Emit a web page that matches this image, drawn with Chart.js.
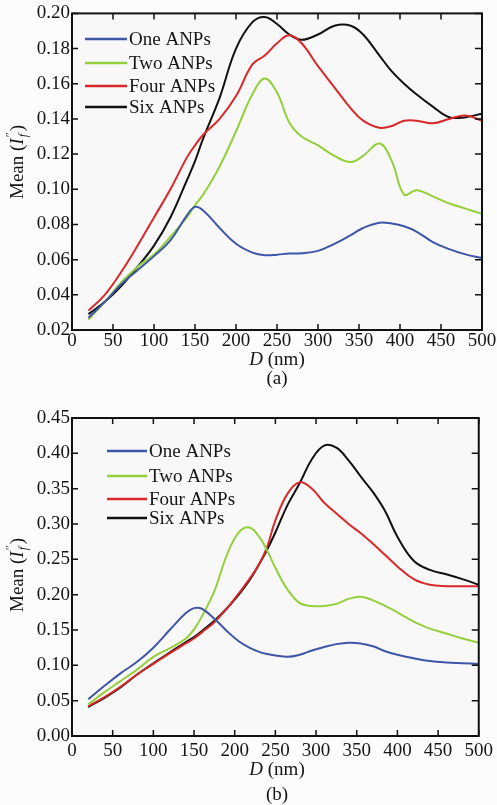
<!DOCTYPE html>
<html>
<head>
<meta charset="utf-8">
<script src="https://cdn.jsdelivr.net/npm/chart.js@4.4.1/dist/chart.umd.min.js"></script>
<style>
  html, body { margin: 0; padding: 0; background: #fcfcfc; }
  .wrap { position: absolute; left: 0; width: 497px; }
  #wrapA { top: 0; height: 392px; }
  #wrapB { top: 400px; height: 405px; }
</style>
</head>
<body>
<div class="wrap" id="wrapA"><canvas id="chartA" width="497" height="392"></canvas></div>
<div class="wrap" id="wrapB"><canvas id="chartB" width="497" height="405"></canvas></div>
<script>
// ---- data (a) ----
const seriesNames = ['One ANPs', 'Two ANPs', 'Four ANPs', 'Six ANPs'];
const seriesColors = ['#3d56a6', '#94cf3c', '#d8282a', '#111111'];

const dA = [20, 40, 60, 80, 100, 120, 140, 150, 160, 180, 200, 220, 235, 250, 265, 280, 300, 320, 340, 355, 375, 390, 405, 420, 440, 460, 480, 500];
const oneA = [0.027, 0.036, 0.046, 0.054, 0.062, 0.071, 0.085, 0.090, 0.088, 0.078, 0.069, 0.064, 0.0625, 0.0628, 0.0635, 0.0636, 0.065, 0.069, 0.074, 0.078, 0.081, 0.0805, 0.079, 0.076, 0.070, 0.066, 0.063, 0.061];
const twoA = [0.026, 0.036, 0.047, 0.056, 0.063, 0.073, 0.084, 0.091, 0.097, 0.113, 0.133, 0.154, 0.163, 0.155, 0.138, 0.130, 0.125, 0.119, 0.1155, 0.119, 0.126, 0.116, 0.097, 0.0995, 0.096, 0.092, 0.089, 0.086];
const fourA = [0.031, 0.040, 0.053, 0.068, 0.084, 0.100, 0.118, 0.125, 0.131, 0.140, 0.153, 0.171, 0.176, 0.183, 0.1876, 0.183, 0.170, 0.158, 0.146, 0.139, 0.135, 0.136, 0.139, 0.139, 0.1375, 0.140, 0.142, 0.139];
const sixA = [0.029, 0.036, 0.045, 0.056, 0.068, 0.084, 0.105, 0.116, 0.129, 0.152, 0.180, 0.195, 0.198, 0.194, 0.188, 0.185, 0.188, 0.193, 0.193, 0.188, 0.176, 0.167, 0.160, 0.154, 0.147, 0.141, 0.141, 0.143];

// ---- data (b) ----
const dB = [20, 40, 60, 80, 100, 120, 140, 150, 160, 175, 190, 205, 218, 230, 240, 250, 265, 280, 295, 310, 325, 340, 355, 370, 385, 400, 420, 440, 460, 480, 500];
const oneB = [0.052, 0.071, 0.089, 0.105, 0.125, 0.150, 0.174, 0.181, 0.180, 0.166, 0.149, 0.134, 0.125, 0.119, 0.116, 0.114, 0.112, 0.115, 0.121, 0.126, 0.130, 0.132, 0.131, 0.127, 0.120, 0.115, 0.110, 0.106, 0.104, 0.103, 0.102];
const twoB = [0.045, 0.062, 0.078, 0.094, 0.112, 0.124, 0.138, 0.151, 0.170, 0.205, 0.255, 0.288, 0.295, 0.282, 0.262, 0.238, 0.207, 0.188, 0.184, 0.184, 0.187, 0.194, 0.197, 0.192, 0.184, 0.175, 0.162, 0.152, 0.145, 0.138, 0.132];
const fourB = [0.042, 0.055, 0.070, 0.087, 0.102, 0.117, 0.131, 0.138, 0.147, 0.161, 0.180, 0.202, 0.222, 0.243, 0.268, 0.305, 0.343, 0.359, 0.350, 0.330, 0.315, 0.300, 0.287, 0.272, 0.256, 0.240, 0.222, 0.214, 0.212, 0.212, 0.212];
const sixB = [0.041, 0.054, 0.069, 0.087, 0.103, 0.118, 0.133, 0.140, 0.149, 0.163, 0.180, 0.200, 0.220, 0.243, 0.264, 0.288, 0.327, 0.358, 0.392, 0.411, 0.408, 0.390, 0.367, 0.345, 0.318, 0.282, 0.248, 0.235, 0.229, 0.222, 0.214];

const FONT = "'Liberation Serif', 'DejaVu Serif', serif";
Chart.defaults.font.family = FONT;
Chart.defaults.font.size = 19;
Chart.defaults.color = '#151515';

// fond gris clair de la zone de tracé
const plotBg = {
  id: 'plotBg',
  beforeDraw(chart) {
    const { ctx, chartArea: a } = chart;
    ctx.save();
    ctx.fillStyle = '#f8f8f8';
    ctx.fillRect(a.left, a.top, a.right - a.left, a.bottom - a.top);
    ctx.restore();
  }
};

// cadre, graduations vers l'intérieur, légende, titres
const decor = {
  id: 'decor',
  afterDraw(chart, args, o) {
    const { ctx, chartArea: a, scales: { x, y } } = chart;
    ctx.save();
    ctx.strokeStyle = '#111';
    ctx.lineWidth = 2;
    ctx.strokeRect(a.left, a.top, a.right - a.left, a.bottom - a.top);

    ctx.lineWidth = 1.5;
    ctx.beginPath();
    x.ticks.forEach(t => {
      const px = x.getPixelForValue(t.value);
      ctx.moveTo(px, a.bottom); ctx.lineTo(px, a.bottom - 6);
      ctx.moveTo(px, a.top); ctx.lineTo(px, a.top + 6);
    });
    y.ticks.forEach(t => {
      const py = y.getPixelForValue(t.value);
      ctx.moveTo(a.left, py); ctx.lineTo(a.left + 6, py);
      ctx.moveTo(a.right, py); ctx.lineTo(a.right - 7, py);
    });
    ctx.stroke();

    // légende
    ctx.font = '19px ' + FONT;
    ctx.textBaseline = 'middle';
    ctx.textAlign = 'left';
    chart.data.datasets.forEach((ds, i) => {
      const ly = o.legendRows[i];
      ctx.strokeStyle = ds.borderColor;
      ctx.lineWidth = 2.5;
      ctx.beginPath();
      ctx.moveTo(o.legendX, ly);
      ctx.lineTo(o.legendX + o.legendLine, ly);
      ctx.stroke();
      ctx.fillStyle = '#151515';
      ctx.fillText(ds.label, o.legendX + o.legendLine + 2, ly + 1);
    });

    // titre axe x : D (nm)
    ctx.textAlign = 'left';
    ctx.font = 'italic 19px ' + FONT;
    const wD = ctx.measureText('D').width;
    ctx.font = '19px ' + FONT;
    const wRest = ctx.measureText(' (nm)').width;
    let sx = o.xTitleX - (wD + wRest) / 2;
    ctx.font = 'italic 19px ' + FONT;
    ctx.fillText('D', sx, o.xTitleY);
    ctx.font = '19px ' + FONT;
    ctx.fillText(' (nm)', sx + wD, o.xTitleY);

    // légende de la figure
    ctx.textAlign = 'center';
    ctx.fillText(o.caption, o.xTitleX, o.captionY);

    // titre axe y : Mean (I''_f)
    ctx.translate(o.yTitleX, o.yTitleY);
    ctx.rotate(-Math.PI / 2);
    ctx.textAlign = 'left';
    ctx.font = '19px ' + FONT;
    const w1 = ctx.measureText('Mean (').width;
    const w3 = ctx.measureText(')').width;
    ctx.font = 'italic 19px ' + FONT;
    const wI = ctx.measureText('I').width;
    ctx.font = 'italic 12px ' + FONT;
    const wS = Math.max(ctx.measureText('f').width, ctx.measureText('\u2033').width) + 2;
    let tx = -(w1 + wI + wS + w3) / 2;
    ctx.font = '19px ' + FONT;
    ctx.fillText('Mean (', tx, 0); tx += w1;
    ctx.font = 'italic 19px ' + FONT;
    ctx.fillText('I', tx, 0); tx += wI;
    ctx.font = '12px ' + FONT;
    ctx.fillText('\u2033', tx + 1, -7);
    ctx.font = 'italic 12px ' + FONT;
    ctx.fillText('f', tx + 1, 6); tx += wS;
    ctx.font = '19px ' + FONT;
    ctx.fillText(')', tx, 0);
    ctx.restore();
  }
};

function buildDatasets(dVals, lists) {
  return lists.map((vals, i) => ({
    label: seriesNames[i],
    data: dVals.map((d, k) => ({ x: d, y: vals[k] })),
    borderColor: seriesColors[i],
    borderWidth: 2,
    pointRadius: 0,
    tension: 0.4,
    fill: false,
  }));
}

function makeChart(id, datasets, s) {
  return new Chart(document.getElementById(id).getContext('2d'), {
    type: 'line',
    data: { datasets },
    options: {
      responsive: false,
      animation: false,
      layout: { padding: { top: s.top, right: 15, left: 0, bottom: 0 } },
      plugins: {
        legend: { display: false },
        tooltip: { enabled: false },
        decor: s.decor,
      },
      scales: {
        x: {
          type: 'linear', min: 0, max: 500,
          ticks: { stepSize: 50, padding: s.xPad, maxRotation: 0, autoSkip: false },
          grid: { display: false, drawTicks: false },
          border: { display: false },
          afterFit: (sc) => { sc.height = s.xHeight; },
        },
        y: {
          min: s.yMin, max: s.yMax,
          ticks: { stepSize: s.yStep, padding: 2, callback: (v) => v.toFixed(2) },
          grid: { display: false, drawTicks: false },
          border: { display: false },
          afterFit: (sc) => { sc.width = 72; },
        },
      },
    },
    plugins: [plotBg, decor],
  });
}

makeChart('chartA', buildDatasets(dA, [oneA, twoA, fourA, sixA]), {
  top: 13, xHeight: 62, xPad: 0, yMin: 0.02, yMax: 0.20, yStep: 0.02,
  decor: {
    legendX: 85, legendLine: 42, legendRows: [39, 63, 86, 107],
    xTitleX: 277, xTitleY: 360, caption: '(a)', captionY: 379,
    yTitleX: 18, yTitleY: 162,
  },
});

makeChart('chartB', buildDatasets(dB, [oneB, twoB, fourB, sixB]), {
  top: 18, xHeight: 69, xPad: 4, yMin: 0, yMax: 0.45, yStep: 0.05,
  decor: {
    legendX: 107, legendLine: 40, legendRows: [451, 476, 499, 518].map(v => v - 400),
    xTitleX: 277, xTitleY: 370, caption: '(b)', captionY: 395,
    yTitleX: 18, yTitleY: 175,
  },
});
</script>
</body>
</html>
